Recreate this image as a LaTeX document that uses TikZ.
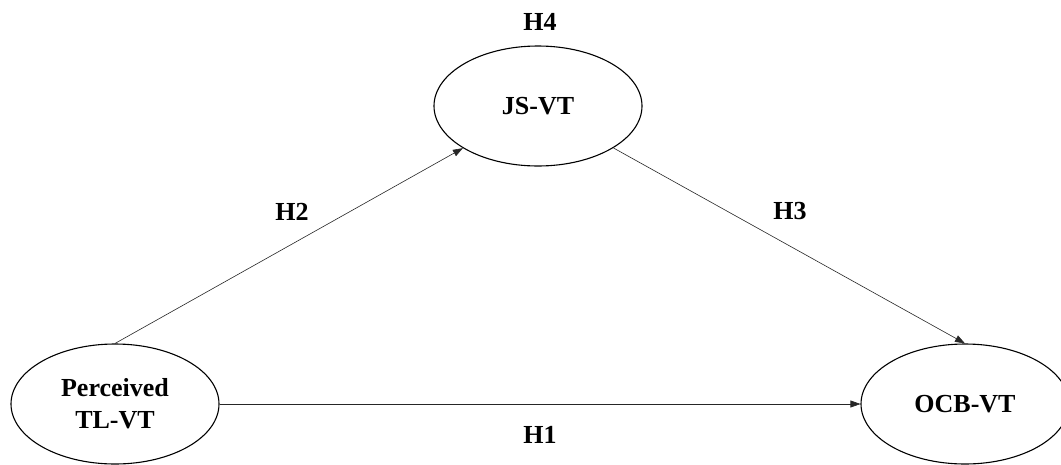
\documentclass[tikz,border=0pt]{standalone}
\usepackage{fontspec}
\setmainfont{Liberation Serif}
\usetikzlibrary{arrows.meta, shapes.geometric}

\begin{document}
\begin{tikzpicture}[x=1pt, y=-1pt,
    every node/.style={font=\fontsize{26}{32}\selectfont\bfseries},
    construct/.style={draw, ellipse, line width=1.1pt, minimum width=208pt, minimum height=120pt, inner sep=0pt, align=center},
    hpath/.style={draw=black!85, line width=0.6pt, -{Triangle[length=10pt,width=7pt]}}]

    \useasboundingbox (0,0) rectangle (1061,464);

    % Constructs
    \node[construct] (tl) at (115,404) {Perceived\\TL-VT};
    \node[construct] (js) at (538,106) {JS-VT};
    \node[construct] (ocb) at (965,404) {OCB-VT};

    % Paths
    \draw[hpath] (tl.north) -- (js);
    \draw[hpath] (js) -- (ocb.north);
    \draw[hpath] (tl.east) -- (ocb.west);

    % Hypothesis labels
    \node (h4) at (540,22) {H4};
    \node (h2) at (292,212) {H2};
    \node (h3) at (790,211) {H3};
    \node (h1) at (540,435) {H1};

\end{tikzpicture}
\end{document}
